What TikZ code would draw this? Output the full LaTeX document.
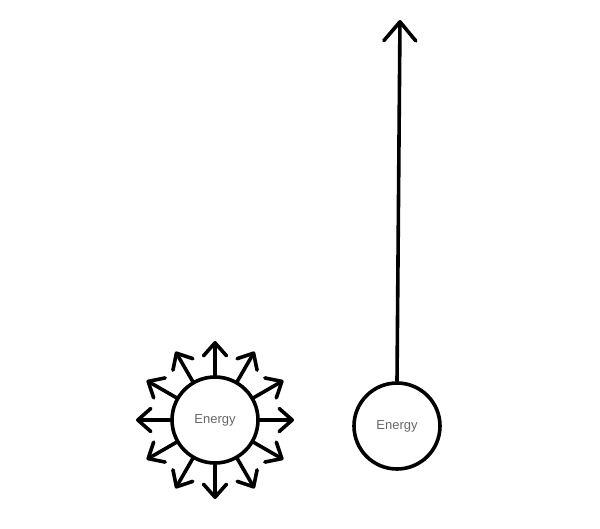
\documentclass[tikz,border=0pt]{standalone}
\usepackage{fontspec}
\setmainfont{Liberation Sans}
\usetikzlibrary{arrows.meta,calc}
\tikzset{
  energy/.style={circle,draw=black,line width=3.6pt,minimum size=86pt,inner sep=0pt,
    font=\fontsize{13}{15}\selectfont,text=black!60},
  ray/.style={line width=3.6pt,line cap=round,line join=round,
    -{Straight Barb[length=13pt,width=23pt,line width=3.6pt,round]}},
  bigray/.style={line width=3.6pt,line cap=round,line join=round,
    -{Straight Barb[length=19pt,width=32pt,line width=3.6pt,round]}}
}
\begin{document}
\begin{tikzpicture}[x=1pt,y=-1pt]
\useasboundingbox (0,0) rectangle (600,528);
\node[energy] (sun) at (215,420) {Energy};
\foreach \a in {0,30,...,330}{
  \coordinate (t\a) at ($(sun.center)!79pt!(sun.\a)$);
  \draw[ray] (sun.\a) -- (t\a);
}
\node[energy] (e2) at (397,426) {Energy};
\coordinate (top) at (400,20);
\draw[bigray] (e2.north) -- (top);
\end{tikzpicture}
\end{document}
